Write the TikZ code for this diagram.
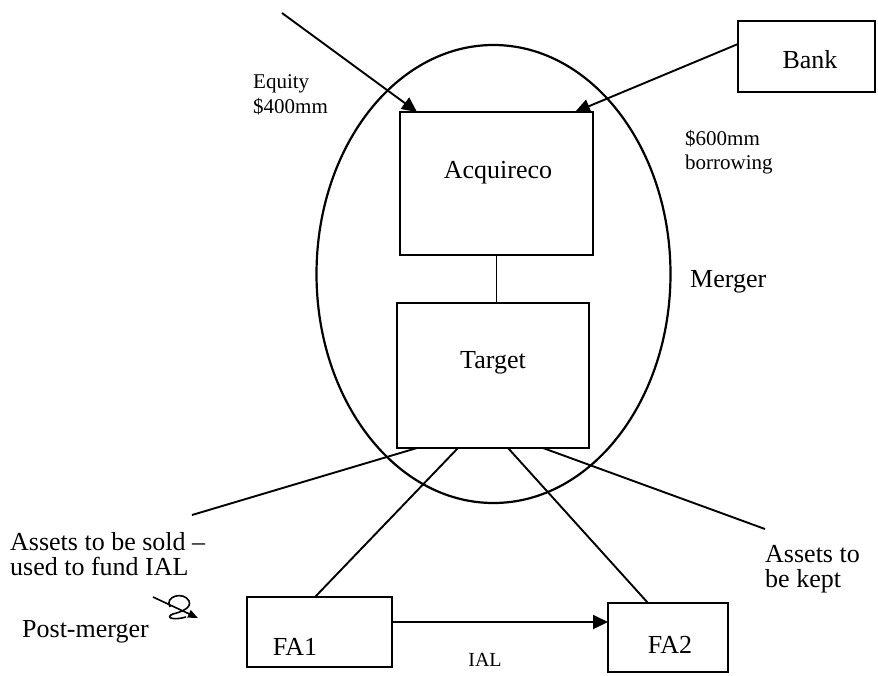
\documentclass[tikz,border=0pt]{standalone}
\usepackage{fontspec}
\setmainfont{Liberation Serif}
\usetikzlibrary{arrows.meta,calc}

\tikzset{
  box/.style={draw, line width=2.2pt, inner sep=0pt, outer sep=0pt},
  conn/.style={line width=1.9pt},
  arr/.style={line width=1.9pt, -{Triangle[length=15pt,width=14pt]}},
  big/.style={font=\fontsize{26}{25}\selectfont, inner sep=0pt},
  small/.style={font=\fontsize{21}{24.5}\selectfont, inner sep=0pt},
  tiny/.style={font=\fontsize{20}{22}\selectfont, inner sep=0pt},
}

\begin{document}
\begin{tikzpicture}[x=1pt, y=-1pt]
\useasboundingbox (0,0) rectangle (878,675);

% merger ellipse
\draw[line width=2.2pt] (493.5,274) ellipse [x radius=177, y radius=229];

% boxes
\node[box, minimum width=193pt, minimum height=143pt] (acq) at (496.5,183.5) {};
\node[box, minimum width=192pt, minimum height=145pt] (tgt) at (493,375.5) {};
\node[box, minimum width=137pt, minimum height=71pt] (bank) at (806.5,56.5) {};
\node[box, minimum width=145pt, minimum height=70pt] (fa1) at (319.5,632) {};
\node[box, minimum width=120pt, minimum height=69pt] (fa2) at (668,637.5) {};

% box captions
\node[big] (acqt) at (498,173) {Acquireco};
\node[big] (tgtt) at (493,363) {Target};
\node[big] (bankt) at (810,60) {Bank};
\node[big] (fa1t) at (295,647) {FA1};
\node[big] (fa2t) at (670,645) {FA2};

% free ends
\coordinate (eqsrc) at (282,13);
\coordinate (soldend) at (192,515);
\coordinate (keptend) at (765,529);

% funding arrows
\draw[arr] (eqsrc) -- ($(acq.north west)+(17,0)$);
\draw[arr] ($(bank.north west)+(0,23)$) -- ($(acq.north east)+(-18,0)$);

% acquireco to target
\draw[conn] (acq.south) -- (acq.south |- tgt.north);

% target to assets
\draw[conn] ($(tgt.south west)+(20,0)$) -- (soldend);
\draw[conn] ($(tgt.south west)+(61,0)$) -- ($(fa1.north west)+(68,0)$);
\draw[conn] ($(tgt.south west)+(111,0)$) -- ($(fa2.north west)+(40,0)$);
\draw[conn] ($(tgt.south west)+(146,0)$) -- (keptend);

% IAL arrow
\coordinate (ials) at ($(fa1.east)+(0,-10)$);
\draw[arr] (ials) -- (ials -| fa2.west);
\node[tiny] (ialt) at (485,660) {IAL};

% hand-drawn curl arrow
\coordinate (curls) at (153,597);
\coordinate (curle) at (198,618);
\draw[line width=1.6pt, -{Triangle[length=10pt,width=8pt]}] (curls) -- (curle);
\draw[line width=1.6pt] (170,607) .. controls (164,596) and (184,591) .. (189,601)
  .. controls (192,608) and (181,612) .. (173,614)
  .. controls (165,617) and (172,621) .. (186,617);

% labels
\node[small, anchor=west, align=left] (eqt) at (253,95) {Equity\\\$400mm};
\node[small, anchor=west, align=left] (bort) at (685,152) {\$600mm\\borrowing};
\node[big, anchor=west] (mergt) at (690,282) {Merger};
\node[big, anchor=west, align=left] (soldt) at (10,554) {Assets to be sold --\\used to fund IAL};
\node[big, anchor=west] (postt) at (22,632) {Post-merger};
\node[big, anchor=west, align=left] (keptt) at (765,569) {Assets to\\be kept};
\end{tikzpicture}
\end{document}
